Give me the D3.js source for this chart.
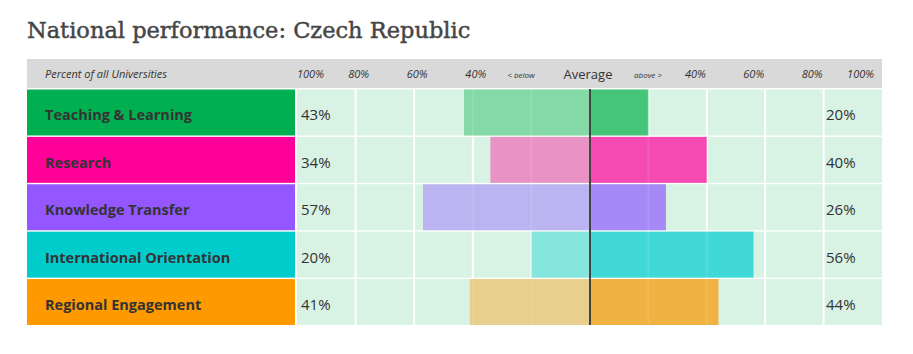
<!DOCTYPE html>
<html>
<head>
<meta charset="utf-8">
<script src="https://cdn.jsdelivr.net/npm/d3@7"></script>
<style>
  body { margin: 0; background: #fff; }
  svg text { font-family: "Open Sans", sans-serif; }
</style>
</head>
<body>
<div id="chart"></div>
<script>
// data
const dimensions = ['Teaching & Learning', 'Research', 'Knowledge Transfer',
  'International Orientation', 'Regional Engagement'];
const belowAvg = [43, 34, 57, 20, 41];
const aboveAvg = [20, 40, 26, 56, 44];
const gridTicks = [20, 40, 60, 80];
const leftTickLabels = [100, 80, 60, 40];
const rightTickLabels = [40, 60, 80, 100];

const labelColors = ['#00b050', '#ff0099', '#9457ff', '#00cccc', '#ff9900'];
const belowColors = ['#85d9a7', '#e893c3', '#bcb4f0', '#84e6dc', '#e8cf8d'];
const aboveColors = ['#44c57a', '#f44ab1', '#a688f6', '#41d9d7', '#f1b244'];

const width = 913, height = 354;
const chartLeft = 297, chartRight = 882, center = 590;

const svg = d3.select('#chart').append('svg')
    .attr('width', width)
    .attr('height', height);

// title
svg.append('text')
    .attr('x', 27)
    .attr('y', 38)
    .style('font-family', '"DejaVu Serif", serif')
    .style('font-size', '22.5px')
    .attr('fill', '#454545')
    .attr('stroke', '#454545')
    .attr('stroke-width', 0.45)
    .text('National performance: Czech Republic');

// scales
const xLeft = d3.scaleLinear().domain([0, 100]).range([center, chartLeft]);
const xRight = d3.scaleLinear().domain([0, 100]).range([center, chartRight]);
const y = d3.scaleBand().domain(dimensions).range([89.5, 325]).paddingInner(0.03);

const rows = dimensions.map((d, i) => ({
  name: d, below: belowAvg[i], above: aboveAvg[i],
  labelColor: labelColors[i], belowColor: belowColors[i], aboveColor: aboveColors[i]
}));

// layers
const bgLayer = svg.append('g');
const gridLayer = svg.append('g');
const barLayer = svg.append('g');
const topLayer = svg.append('g');

// header band
bgLayer.append('rect')
    .attr('x', 27).attr('y', 59)
    .attr('width', chartRight - 27).attr('height', 29)
    .attr('fill', '#d9d9d9');

topLayer.append('text')
    .attr('x', 45).attr('y', 78)
    .style('font-size', '11px').style('font-style', 'italic')
    .attr('fill', '#333')
    .text('Percent of all Universities');

topLayer.selectAll('.lefttick')
    .data(leftTickLabels)
    .join('text')
    .attr('class', 'lefttick')
    .attr('x', d => d === 100 ? chartLeft : xLeft(d) + 3)
    .attr('y', 78)
    .attr('text-anchor', d => d === 100 ? 'start' : 'middle')
    .style('font-size', '11px').style('font-style', 'italic')
    .attr('fill', '#333')
    .text(d => d + '%');

topLayer.selectAll('.righttick')
    .data(rightTickLabels)
    .join('text')
    .attr('class', 'righttick')
    .attr('x', d => d === 100 ? chartRight - 8 : xRight(d) - 1)
    .attr('y', 78)
    .attr('text-anchor', 'end')
    .style('font-size', '11px').style('font-style', 'italic')
    .attr('fill', '#333')
    .text(d => d + '%');

topLayer.append('text')
    .attr('x', center - 69).attr('y', 78)
    .attr('text-anchor', 'middle')
    .style('font-size', '8px').style('font-style', 'italic')
    .attr('fill', '#333')
    .text('< below');

topLayer.append('text')
    .attr('x', center + 58).attr('y', 78)
    .attr('text-anchor', 'middle')
    .style('font-size', '8px').style('font-style', 'italic')
    .attr('fill', '#333')
    .text('above >');

topLayer.append('text')
    .attr('x', center - 2).attr('y', 79)
    .attr('text-anchor', 'middle')
    .style('font-size', '13px')
    .attr('fill', '#333')
    .text('Average');

// row backgrounds + labels
bgLayer.selectAll('.labelcell')
    .data(rows)
    .join('rect')
    .attr('class', 'labelcell')
    .attr('x', 27)
    .attr('y', d => y(d.name))
    .attr('width', 268)
    .attr('height', y.bandwidth())
    .attr('fill', d => d.labelColor);

bgLayer.selectAll('.plotcell')
    .data(rows)
    .join('rect')
    .attr('class', 'plotcell')
    .attr('x', chartLeft)
    .attr('y', d => y(d.name))
    .attr('width', chartRight - chartLeft)
    .attr('height', y.bandwidth())
    .attr('fill', '#d8f2e4');

topLayer.selectAll('.rowlabel')
    .data(rows)
    .join('text')
    .attr('class', 'rowlabel')
    .attr('x', 45)
    .attr('y', d => y(d.name) + y.bandwidth() / 2 + 8)
    .style('font-size', '14.5px').style('font-weight', 'bold')
    .attr('fill', '#333')
    .text(d => d.name);

// gridlines
const gridXs = gridTicks.map(xLeft).concat(gridTicks.map(xRight));
gridLayer.selectAll('.grid')
    .data(gridXs)
    .join('line')
    .attr('class', 'grid')
    .attr('x1', d => d).attr('x2', d => d)
    .attr('y1', 89).attr('y2', 325)
    .attr('stroke', '#fff')
    .attr('stroke-width', 2);

// bars
barLayer.selectAll('.below')
    .data(rows)
    .join('rect')
    .attr('class', 'below')
    .attr('x', d => xLeft(d.below))
    .attr('y', d => y(d.name))
    .attr('width', d => center - xLeft(d.below))
    .attr('height', y.bandwidth())
    .attr('fill', d => d.belowColor);

barLayer.selectAll('.above')
    .data(rows)
    .join('rect')
    .attr('class', 'above')
    .attr('x', center)
    .attr('y', d => y(d.name))
    .attr('width', d => xRight(d.above) - center)
    .attr('height', y.bandwidth())
    .attr('fill', d => d.aboveColor);

// faint gridlines showing through the bars
barLayer.selectAll('.gridover')
    .data(gridXs)
    .join('line')
    .attr('class', 'gridover')
    .attr('x1', d => d).attr('x2', d => d)
    .attr('y1', 89).attr('y2', 325)
    .attr('stroke', '#fff')
    .attr('stroke-opacity', 0.1)
    .attr('stroke-width', 2);

// percent labels
topLayer.selectAll('.belowlabel')
    .data(rows)
    .join('text')
    .attr('class', 'belowlabel')
    .attr('x', 301)
    .attr('y', d => y(d.name) + y.bandwidth() / 2 + 8)
    .style('font-size', '15px')
    .attr('fill', '#333')
    .text(d => d.below + '%');

topLayer.selectAll('.abovelabel')
    .data(rows)
    .join('text')
    .attr('class', 'abovelabel')
    .attr('x', 826)
    .attr('y', d => y(d.name) + y.bandwidth() / 2 + 8)
    .style('font-size', '15px')
    .attr('fill', '#333')
    .text(d => d.above + '%');

// average line
topLayer.append('line')
    .attr('x1', center).attr('x2', center)
    .attr('y1', 89).attr('y2', 325)
    .attr('stroke', '#444')
    .attr('stroke-width', 2);
</script>
</body>
</html>
